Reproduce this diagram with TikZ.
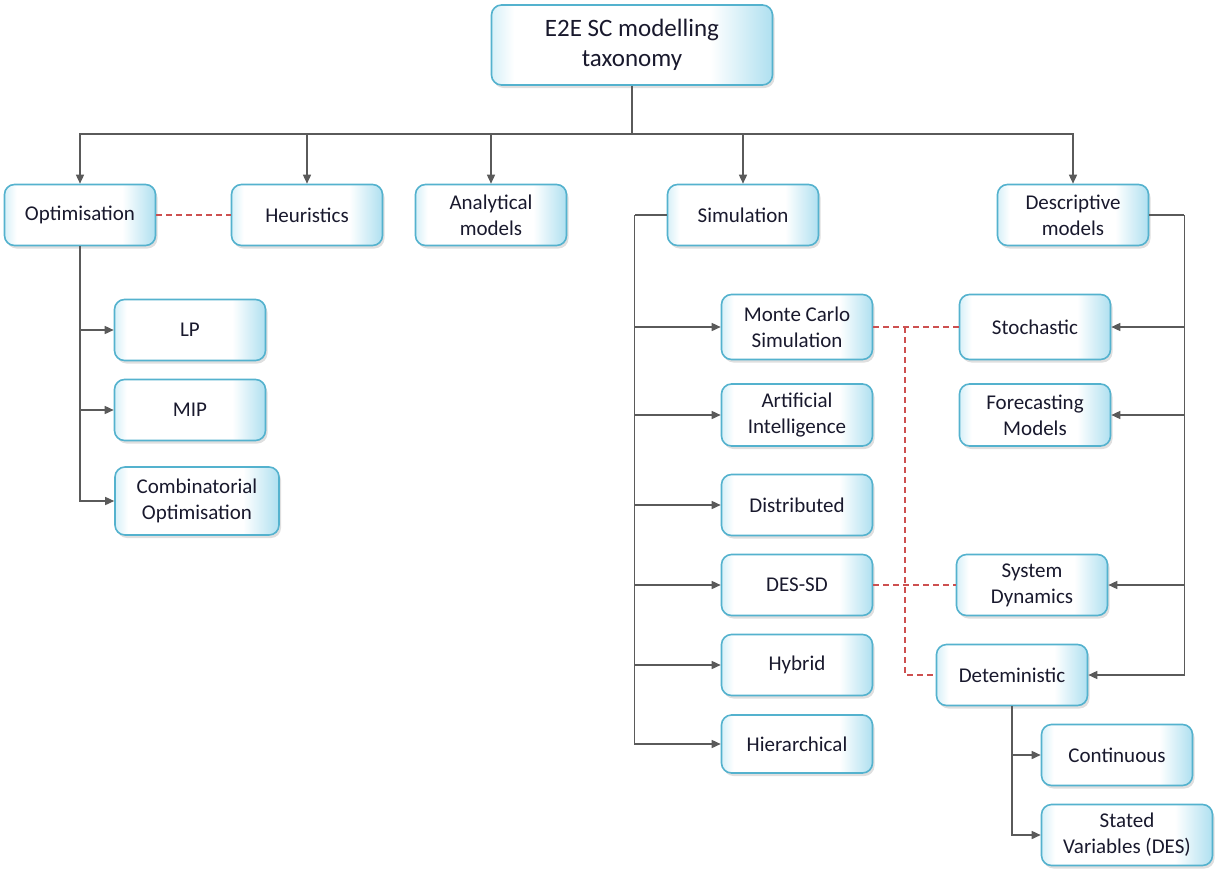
\documentclass[tikz,border=0pt]{standalone}
\usepackage{fontspec}
\setmainfont{Carlito}
\usetikzlibrary{arrows.meta,shadows,calc}
\definecolor{bordc}{RGB}{84,178,206}
\definecolor{edgec}{RGB}{175,224,240}
\definecolor{edgel}{RGB}{215,240,248}
\definecolor{linec}{RGB}{90,90,90}
\definecolor{dashc}{RGB}{205,80,80}
\definecolor{txtc}{RGB}{25,25,45}
\pgfdeclarehorizontalshading{boxshade}{100bp}{color(0bp)=(edgel); color(25bp)=(edgel); color(29bp)=(white); color(64bp)=(white); color(75bp)=(edgec); color(100bp)=(edgec)}
\tikzset{
  box/.style={rectangle, rounded corners=10pt, draw=bordc, line width=1.6pt,
    shading=boxshade, minimum width=151pt, minimum height=61pt, inner sep=2pt,
    align=center, text=txtc, font=\fontsize{21}{26}\selectfont,
    drop shadow={shadow xshift=2pt, shadow yshift=-3pt, opacity=0.25}},
  conn/.style={draw=linec, line width=1.5pt},
  arr/.style={conn, -{Triangle[length=9pt,width=8pt]}},
  redd/.style={draw=dashc, line width=1.4pt, dash pattern=on 6pt off 4pt},
}
\begin{document}
\begin{tikzpicture}[x=1pt,y=-1pt]
\useasboundingbox (0,0) rectangle (1215,870);
% nodes
\node[box, minimum width=281pt, minimum height=80pt, font=\fontsize{25}{30}\selectfont] (root) at (632,45) {E2E SC modelling\\taxonomy};
\node[box] (opt) at (80,215) {Optimisation};
\node[box] (heur) at (307,215) {Heuristics};
\node[box] (anal) at (491,215) {Analytical\\models};
\node[box] (sim) at (743,215) {Simulation};
\node[box] (desc) at (1073,215) {Descriptive\\models};
\node[box] (lp) at (190,330) {LP};
\node[box] (mip) at (190,410) {MIP};
\node[box, minimum width=164pt, minimum height=68pt] (comb) at (197,501) {Combinatorial\\Optimisation};
\node[box, minimum height=65pt] (mc) at (797,327) {Monte Carlo\\Simulation};
\node[box, minimum height=62pt] (ai) at (797,415) {Artificial\\Intelligence};
\node[box] (dist) at (797,505) {Distributed};
\node[box] (des) at (797,585) {DES-SD};
\node[box] (hyb) at (797,665) {Hybrid};
\node[box, minimum height=58pt] (hier) at (797,744) {Hierarchical};
\node[box, minimum height=65pt] (stoch) at (1035,327) {Stochastic};
\node[box, minimum height=62pt] (fore) at (1035,415) {Forecasting\\Models};
\node[box] (sd) at (1032,585) {System\\Dynamics};
\node[box] (det) at (1012,675) {Deteministic};
\node[box] (cont) at (1117,755) {Continuous};
\node[box, minimum width=171pt] (stv) at (1127,835) {Stated\\Variables (DES)};
% tree from root
\draw[conn] (root.south) -- ++(0,48) coordinate (hub);
\foreach \n in {opt,heur,anal,sim,desc} \draw[arr] (hub) -| (\n.north);
% optimisation
\foreach \n in {lp,mip,comb} \draw[arr] (opt.south) |- (\n.west);
% simulation
\draw[conn] (sim.west) -- ++(-32,0) coordinate (sv);
\foreach \n in {mc,ai,dist,des,hyb,hier} \draw[arr] (sv) |- (\n.west);
% descriptive
\draw[conn] (desc.east) -- ++(35,0) coordinate (dv2);
\foreach \n in {stoch,fore,sd,det} \draw[arr] (dv2) |- (\n.east);
% deterministic
\foreach \n in {cont,stv} \draw[arr] (det.south) |- (\n.west);
% red dashed links
\draw[redd] (opt.east) -- (heur.west);
\draw[redd] (mc.east) -- (stoch.west);
\draw[redd] (des.east) -- (sd.west);
\coordinate (rv) at (905,327);
\draw[redd] (rv) |- (det.west);
\end{tikzpicture}
\end{document}
